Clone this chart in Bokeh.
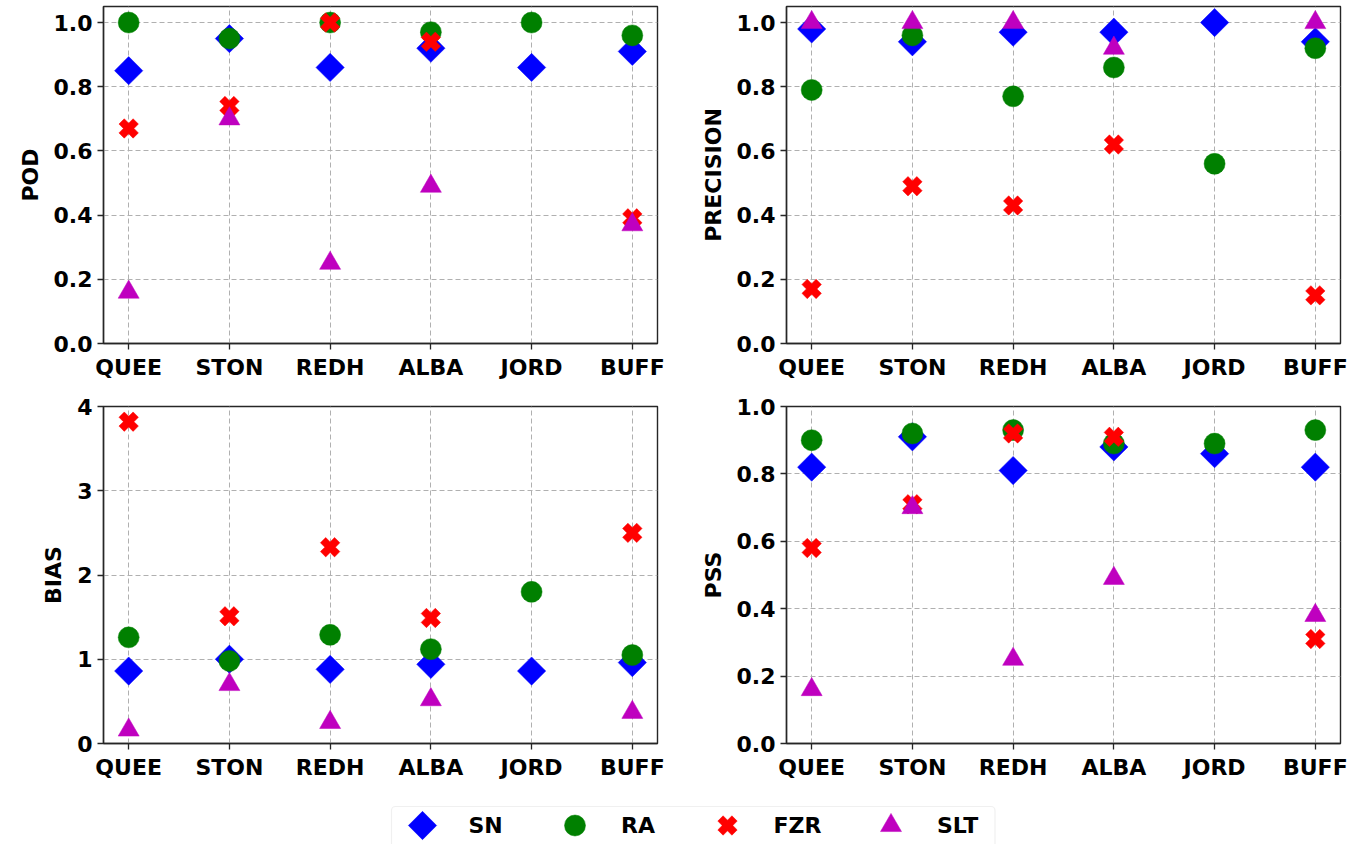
import math
import numpy as np
from bokeh.plotting import figure
from bokeh.models import (Range1d, FixedTicker, PrintfTickFormatter,
                          ColumnDataSource, BoxAnnotation)
from bokeh.core.properties import value
from bokeh.layouts import column, row
from bokeh.embed import file_html
from bokeh.resources import INLINE

nan = float("nan")

stations = ["QUEE", "STON", "REDH", "ALBA", "JORD", "BUFF"]
series_names = ["SN", "RA", "FZR", "SLT"]

pod_sn = [0.85, 0.95, 0.86, 0.92, 0.86, 0.91]
pod_ra = [1.00, 0.95, 1.00, 0.97, 1.00, 0.96]
pod_fzr = [0.67, 0.74, 1.00, 0.94, nan, 0.39]
pod_slt = [0.16, 0.70, 0.25, 0.49, nan, 0.37]

prec_sn = [0.98, 0.94, 0.97, 0.97, 1.00, 0.94]
prec_ra = [0.79, 0.96, 0.77, 0.86, 0.56, 0.92]
prec_fzr = [0.17, 0.49, 0.43, 0.62, nan, 0.15]
prec_slt = [1.00, 1.00, 1.00, 0.92, nan, 1.00]

bias_sn = [0.86, 1.00, 0.88, 0.94, 0.86, 0.96]
bias_ra = [1.26, 0.98, 1.29, 1.12, 1.80, 1.05]
bias_fzr = [3.82, 1.51, 2.33, 1.49, nan, 2.50]
bias_slt = [0.16, 0.70, 0.25, 0.52, nan, 0.37]

pss_sn = [0.82, 0.91, 0.81, 0.88, 0.86, 0.82]
pss_ra = [0.90, 0.92, 0.93, 0.89, 0.89, 0.93]
pss_fzr = [0.58, 0.71, 0.92, 0.91, nan, 0.31]
pss_slt = [0.16, 0.70, 0.25, 0.49, nan, 0.38]

frac_ticks = [0.0, 0.2, 0.4, 0.6, 0.8, 1.0]
bias_ticks = [0, 1, 2, 3, 4]

FONT = "DejaVu Sans"
AX = "#262626"

styles = {
    "SN": dict(marker="square", angle=math.pi / 4, size=20, color="#0000ff"),
    "RA": dict(marker="circle", angle=0.0, size=21, color="#008000"),
    "FZR": dict(marker="plus", angle=math.pi / 4, size=20, color="#ff0000"),
    "SLT": dict(marker="triangle", angle=0.0, size=21, color="#bf00bf"),
}


def make_panel(label, data, y_end, yticks, fmt, width, height, bl, br, bt, bb):
    p = figure(width=width, height=height, output_backend="svg",
               toolbar_location=None,
               x_range=Range1d(-0.25, len(stations) - 0.75),
               y_range=Range1d(0, y_end),
               min_border_left=bl, min_border_right=br,
               min_border_top=bt, min_border_bottom=bb)
    p.background_fill_color = "white"
    p.border_fill_color = "white"
    p.outline_line_color = AX
    p.outline_line_width = 1.4
    xs = np.arange(len(stations))
    for name, vals in zip(series_names, data):
        st = styles[name]
        src = ColumnDataSource(dict(x=xs, y=np.array(vals, dtype=float)))
        p.scatter("x", "y", source=src, marker=st["marker"], angle=st["angle"],
                  size=st["size"], fill_color=st["color"], line_color=st["color"],
                  line_width=0.5)
    p.xaxis.ticker = FixedTicker(ticks=list(range(len(stations))))
    p.xaxis.major_label_overrides = {i: s for i, s in enumerate(stations)}
    p.yaxis.ticker = FixedTicker(ticks=yticks)
    p.yaxis.formatter = PrintfTickFormatter(format=fmt)
    p.yaxis.axis_label = label
    for ax in p.axis:
        ax.major_label_text_font = FONT
        ax.major_label_text_font_size = "22px"
        ax.major_label_text_font_style = "bold"
        ax.major_label_text_color = "black"
        ax.axis_line_color = AX
        ax.axis_line_width = 1.4
        ax.major_tick_line_color = AX
        ax.major_tick_line_width = 1.3
        ax.major_tick_out = 6
        ax.major_tick_in = 0
        ax.minor_tick_out = 0
        ax.minor_tick_in = 0
        ax.major_label_standoff = 5
        ax.axis_label_text_font = FONT
        ax.axis_label_text_font_size = "22px"
        ax.axis_label_text_font_style = "bold"
        ax.axis_label_text_color = "black"
        ax.axis_label_standoff = 8
    for g in p.grid:
        g.grid_line_color = "#b0b0b0"
        g.grid_line_dash = "5 3"
        g.grid_line_width = 1
    return p


p1 = make_panel("POD", [pod_sn, pod_ra, pod_fzr, pod_slt], 1.05, frac_ticks, "%.1f",
                680, 383, 103, 23, 6, 40)
p2 = make_panel("PRECISION", [prec_sn, prec_ra, prec_fzr, prec_slt], 1.05, frac_ticks, "%.1f",
                680, 383, 106, 20, 6, 40)
p3 = make_panel("BIAS", [bias_sn, bias_ra, bias_fzr, bias_slt], 4, bias_ticks, "%d",
                680, 407, 103, 23, 23, 47)
p4 = make_panel("PSS", [pss_sn, pss_ra, pss_fzr, pss_slt], 1.0, frac_ticks, "%.1f",
                680, 407, 106, 20, 23, 47)

# ---- legend strip (pixel-unit ranges; positions derived from label lengths) ----
LEG_W, LEG_H = 1360, 54
leg = figure(width=LEG_W, height=LEG_H, output_backend="svg", toolbar_location=None,
             x_range=Range1d(0, LEG_W), y_range=Range1d(0, LEG_H), min_border=0)
leg.axis.visible = False
leg.grid.visible = False
leg.outline_line_color = None

first_center = 422
row_y = 19
text_gap = 46
centers = [first_center]
for name in series_names[:-1]:
    centers.append(centers[-1] + 130.5 + 11 * len(name))

box = BoxAnnotation(left=first_center - 31, right=centers[-1] + 104,
                    top=38, bottom=-20, fill_color="white", fill_alpha=1.0,
                    line_color="#cccccc", line_width=1.2, level="underlay")
try:
    box.border_radius = 4
except Exception:
    pass
leg.add_layout(box)

for name, cx in zip(series_names, centers):
    st = styles[name]
    leg.scatter(x=[cx], y=[row_y], marker=st["marker"], angle=st["angle"],
                size=st["size"], fill_color=st["color"], line_color=st["color"],
                line_width=0.5)
leg.text(x=[c + text_gap for c in centers], y=[row_y] * len(centers), text=series_names,
         text_font=value(FONT), text_font_size=value("22px"),
         text_font_style=value("bold"), text_color=value("black"),
         text_baseline=value("middle"), text_align=value("left"))

layout = column(row(p1, p2), row(p3, p4), leg)

with open("out.html", "w") as f:
    f.write(file_html(layout, INLINE))
